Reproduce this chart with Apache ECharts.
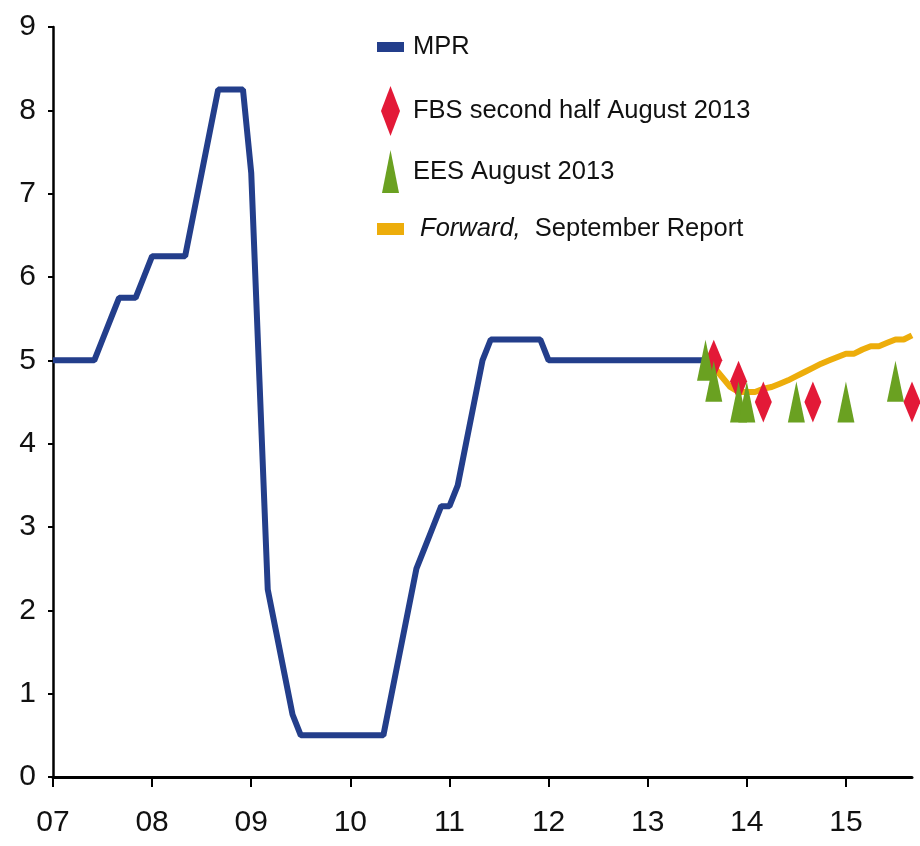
<!DOCTYPE html>
<html>
<head>
<meta charset="utf-8">
<script src="https://cdn.jsdelivr.net/npm/echarts@6/dist/echarts.min.js"></script>
<style>
  html, body { margin: 0; padding: 0; background: #ffffff; }
  #chart { width: 920px; height: 846px; }
</style>
</head>
<body>
<div id="chart"></div>
<script>
// Monthly calendar from Jan 2007 to Sep 2015 (category axis)
const monthLabels = [];
for (let y = 2007; y <= 2015; y++) {
  for (let m = 1; m <= 12; m++) {
    if (y === 2015 && m > 9) break;
    monthLabels.push(y + '-' + String(m).padStart(2, '0'));
  }
}

// Monetary policy rate, Jan 2007 - Aug 2013 (%)
const mprRate = [
  5.0, 5.0, 5.0, 5.0, 5.0, 5.0, 5.25, 5.5, 5.75, 5.75, 5.75, 6.0,
  6.25, 6.25, 6.25, 6.25, 6.25, 6.75, 7.25, 7.75, 8.25, 8.25, 8.25, 8.25,
  7.25, 4.75, 2.25, 1.75, 1.25, 0.75, 0.5, 0.5, 0.5, 0.5, 0.5, 0.5,
  0.5, 0.5, 0.5, 0.5, 0.5, 1.0, 1.5, 2.0, 2.5, 2.75, 3.0, 3.25,
  3.25, 3.5, 4.0, 4.5, 5.0, 5.25, 5.25, 5.25, 5.25, 5.25, 5.25, 5.25,
  5.0, 5.0, 5.0, 5.0, 5.0, 5.0, 5.0, 5.0, 5.0, 5.0, 5.0, 5.0,
  5.0, 5.0, 5.0, 5.0, 5.0, 5.0, 5.0, 5.0
];

// Forward-implied path, Aug 2013 - Sep 2015 (%)
const forwardStart = '2013-08';
const forwardRate = [
  5.0, 4.92, 4.80, 4.68, 4.62, 4.62, 4.62, 4.66, 4.68, 4.72, 4.76, 4.81,
  4.86, 4.91, 4.96, 5.00, 5.04, 5.08, 5.08, 5.13, 5.17, 5.17, 5.21, 5.25,
  5.25, 5.30
];

// Financial Brokers Survey, second half of August 2013
const fbsMonths = ['2013-09', '2013-12', '2014-03', '2014-09', '2015-09'];
const fbsValues = [5.0, 4.75, 4.5, 4.5, 4.5];

// Economic Expectations Survey, August 2013
const eesMonths = ['2013-08', '2013-09', '2013-12', '2014-01', '2014-07', '2015-01', '2015-07'];
const eesValues = [5.0, 4.75, 4.5, 4.5, 4.5, 4.5, 4.75];

const yTicks = { min: 0, max: 9, step: 1 };

const FONT = '"Liberation Sans Narrow", "Arial Narrow", "Liberation Sans", Arial, sans-serif';
const BLUE = '#233e8b', ORANGE = '#edad0b', RED = '#e31937', GREEN = '#6aa121';

const mprData = mprRate.map((v, i) => [monthLabels[i], v]);
const fwdOffset = monthLabels.indexOf(forwardStart);
const forwardData = forwardRate.map((v, i) => [monthLabels[fwdOffset + i], v]);
const fbsData = fbsMonths.map((m, i) => [m, fbsValues[i]]);
const eesData = eesMonths.map((m, i) => [m, eesValues[i]]);

const legendText = { fontFamily: FONT, fontSize: 25.5, color: '#111', lineHeight: 40 };
function legendBlock(name, icon, w, h, left, centerY, padLeft, extra) {
  return Object.assign({
    show: true, data: [name], icon: icon, orient: 'vertical',
    left: left, top: centerY - 20, padding: 0,
    itemWidth: w, itemHeight: h, selectedMode: false,
    textStyle: Object.assign({}, legendText, { padding: [0, 0, 0, padLeft] })
  }, extra || {});
}

const chart = echarts.init(document.getElementById('chart'), null, { renderer: 'canvas' });
chart.setOption({
  animation: false,
  backgroundColor: '#ffffff',
  grid: { left: 53, right: 8, top: 27, bottom: 69, containLabel: false },
  legend: [
    legendBlock('MPR', 'rect', 27, 10, 377, 47, 4),
    legendBlock('FBS second half August 2013', 'diamond', 19, 50, 381, 106, 8),
    legendBlock('EES August 2013', 'triangle', 17, 43, 382, 170, 9),
    legendBlock('Forward, September Report', 'rect', 27, 12, 377, 229, 4, {
      formatter: () => '{it| Forward,}  September Report',
      textStyle: Object.assign({}, legendText, {
        padding: [0, 0, 0, 4],
        rich: { it: { fontFamily: FONT, fontSize: 25.5, fontStyle: 'italic', color: '#111', lineHeight: 40 } }
      })
    })
  ],
  xAxis: {
    type: 'category',
    data: monthLabels,
    boundaryGap: false,
    axisLine: { lineStyle: { color: '#000', width: 3 } },
    axisTick: {
      inside: false, length: 10,
      lineStyle: { color: '#000', width: 2 },
      interval: (i) => i % 12 === 0
    },
    axisLabel: {
      interval: (i) => i % 12 === 0,
      formatter: (v) => v.slice(2, 4),
      fontFamily: FONT, fontSize: 30, color: '#111', margin: 31
    },
    splitLine: { show: false }
  },
  yAxis: {
    type: 'value',
    min: yTicks.min, max: yTicks.max, interval: yTicks.step,
    axisLine: { show: true, lineStyle: { color: '#000', width: 2.5 } },
    axisTick: { show: true, inside: false, length: 5, lineStyle: { color: '#000', width: 2 } },
    axisLabel: { fontFamily: FONT, fontSize: 30, color: '#111', margin: 17 },
    splitLine: { show: false }
  },
  series: [
    {
      name: 'MPR', type: 'line', data: mprData, symbol: 'none',
      lineStyle: { color: BLUE, width: 6 }, itemStyle: { color: BLUE }, z: 2
    },
    {
      name: 'Forward, September Report', type: 'line', data: forwardData, symbol: 'none',
      lineStyle: { color: ORANGE, width: 6 }, itemStyle: { color: ORANGE }, z: 2
    },
    {
      name: 'FBS second half August 2013', type: 'scatter', data: fbsData,
      symbol: 'diamond', symbolSize: [17, 41], itemStyle: { color: RED, opacity: 1 }, z: 3
    },
    {
      name: 'EES August 2013', type: 'scatter', data: eesData,
      symbol: 'triangle', symbolSize: [17, 41], itemStyle: { color: GREEN, opacity: 1 }, z: 4
    }
  ]
});
</script>
</body>
</html>
